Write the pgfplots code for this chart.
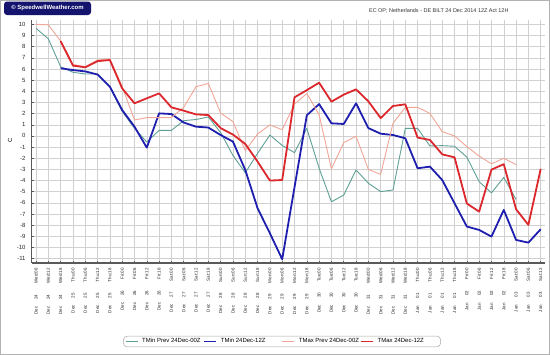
\documentclass[border=0pt]{standalone}
\usepackage{pgfplots}
\pgfplotsset{compat=1.18}
\usepackage{fontspec}
\setmainfont{Liberation Sans}
\definecolor{tminprev}{RGB}{95,160,150}
\definecolor{tmin}{RGB}{30,30,175}
\definecolor{tmaxprev}{RGB}{240,165,150}
\definecolor{tmax}{RGB}{220,40,45}
\definecolor{gridc}{RGB}{208,208,208}
\definecolor{axisc}{RGB}{90,90,90}
\definecolor{navy}{RGB}{20,20,110}
\newcommand{\xl}[3]{\makebox[15bp][l]{#1}\makebox[16bp][l]{#2}#3}
\begin{document}
\begin{tikzpicture}
\draw[gray!60, line width=1bp] (0.5bp,-0.5bp) rectangle (549.5bp,-354.5bp);
\fill[navy, rounded corners=3bp] (4bp,-1.5bp) rectangle (91bp,-15bp);
\node[text=white, font=\fontsize{6}{7}\selectfont\bfseries] at (47.5bp,-8.2bp) {© SpeedwellWeather.com};
\node[anchor=east, font=\fontsize{5.5}{6.5}\selectfont, text=black!80] at (512bp,-10.7bp) {EC OP; Netherlands - DE BILT 24 Dec 2014 12Z Act 12H};
\begin{axis}[
 at={(31.7bp,-263bp)}, anchor=south west, scale only axis,
 width=513.3bp, height=243bp,
 xmin=-0.35, xmax=41.35, ymin=-11.385, ymax=10.385,
 axis x line*=bottom, axis y line*=left,
 x axis line style={-, axisc, line width=1.3bp},
 y axis line style={-, axisc, line width=1.3bp},
 xtick={0,...,41}, ytick={-11,...,10},
 xticklabels={\xl{Dec}{24}{Wed:06},\xl{Dec}{24}{Wed:12},\xl{Dec}{24}{Wed:18},
 \xl{Dec}{25}{Thu:00},\xl{Dec}{25}{Thu:06},\xl{Dec}{25}{Thu:12},\xl{Dec}{25}{Thu:18},
 \xl{Dec}{26}{Fri:00},\xl{Dec}{26}{Fri:06},\xl{Dec}{26}{Fri:12},\xl{Dec}{26}{Fri:18},
 \xl{Dec}{27}{Sat:00},\xl{Dec}{27}{Sat:06},\xl{Dec}{27}{Sat:12},\xl{Dec}{27}{Sat:18},
 \xl{Dec}{28}{Sun:00},\xl{Dec}{28}{Sun:06},\xl{Dec}{28}{Sun:12},\xl{Dec}{28}{Sun:18},
 \xl{Dec}{29}{Mon:00},\xl{Dec}{29}{Mon:06},\xl{Dec}{29}{Mon:12},\xl{Dec}{29}{Mon:18},
 \xl{Dec}{30}{Tue:00},\xl{Dec}{30}{Tue:06},\xl{Dec}{30}{Tue:12},\xl{Dec}{30}{Tue:18},
 \xl{Dec}{31}{Wed:00},\xl{Dec}{31}{Wed:06},\xl{Dec}{31}{Wed:12},\xl{Dec}{31}{Wed:18},
 \xl{Jan}{01}{Thu:00},\xl{Jan}{01}{Thu:06},\xl{Jan}{01}{Thu:12},\xl{Jan}{01}{Thu:18},
 \xl{Jan}{02}{Fri:00},\xl{Jan}{02}{Fri:06},\xl{Jan}{02}{Fri:12},\xl{Jan}{02}{Fri:18},
 \xl{Jan}{03}{Sat:00},\xl{Jan}{03}{Sat:06},\xl{Jan}{03}{Sat:12}},
 yticklabel={\pgfmathprintnumber[assume math mode=true]{\tick}},
 grid=major, major grid style={gridc, line width=0.5bp},
 tick style={axisc, line width=0.5bp}, major tick length=2bp,
 x tick label style={font=\fontsize{4.5}{5}\selectfont, rotate=90, anchor=east, inner xsep=5bp, inner ysep=0pt, text=black!85},
 y tick label style={font=\fontsize{6}{7}\selectfont, anchor=east, inner xsep=6bp, inner ysep=0pt, text=black!85},
 ylabel={C}, ylabel style={at={(-0.0423,0.506)}, anchor=center, font=\fontsize{6}{7}\selectfont},
 legend columns=4,
 legend style={at={(0.4876,-0.323)}, anchor=center, draw=gray!70, rounded corners=4bp, line width=0.5bp,
   font=\fontsize{6}{7}\selectfont, inner xsep=2bp, inner ysep=1.5bp,
   /tikz/every odd column/.append style={column sep=3bp}, nodes={inner sep=1bp}},
 legend image code/.code={\draw[#1] (0bp,0bp) -- (12bp,0bp);},
 every axis plot/.append style={line join=round},
]
\addplot[tminprev, line width=0.9bp] coordinates {
(0,9.64)(1,8.7)(2,6.2)(3,5.7)(4,5.55)(5,5.55)(6,4.4)(7,2.2)(8,0.68)(9,-0.55)
(10,0.5)(11,0.5)(12,1.37)(13,1.47)(14,1.7)(15,0.3)(16,-1.75)(17,-3.3)(18,-1.56)(19,0.08)
(20,-0.85)(21,-1.5)(22,0.68)(23,-2.9)(24,-5.9)(25,-5.3)(26,-3.05)(27,-4.24)(28,-4.99)(29,-4.84)
(30,0.68)(31,0.68)(32,-0.9)(33,-0.87)(34,-0.93)(35,-1.9)(36,-4.1)(37,-5.1)(38,-3.72)(39,-5.7)};
\addlegendentry{\makebox[60bp][l]{TMin Prev 24Dec-00Z}}
\addplot[tmin, line width=1.8bp] coordinates {
(2,6.06)(3,5.9)(4,5.78)(5,5.5)(6,4.41)(7,2.32)(8,0.83)(9,-1.05)
(10,2.02)(11,1.96)(12,1.2)(13,0.83)(14,0.75)(15,0.08)(16,-0.51)(17,-3.05)(18,-6.48)(19,-8.72)
(20,-11.05)(21,-4.6)(22,1.85)(23,2.85)(24,1.13)(25,1.07)(26,2.92)(27,0.7)(28,0.2)(29,0.08)
(30,-0.21)(31,-2.9)(32,-2.75)(33,-3.95)(34,-6.03)(35,-8.12)(36,-8.42)(37,-9.02)(38,-6.63)(39,-9.32)
(40,-9.56)(41,-8.36)};
\addlegendentry{\makebox[60bp][l]{TMin 24Dec-12Z}}
\addplot[tmaxprev, line width=0.9bp] coordinates {
(0,10)(1,9.95)(2,8.5)(3,6.4)(4,6.2)(5,6.8)(6,6.9)(7,4.41)(8,1.43)(9,1.64)
(10,1.64)(11,1.65)(12,2.56)(13,4.41)(14,4.7)(15,2.05)(16,1.28)(17,-1.32)(18,0.17)(19,0.98)
(20,0.56)(21,2.85)(22,3.8)(23,1.9)(24,-2.95)(25,-0.6)(26,-0.03)(27,-3.0)(28,-3.45)(29,1.13)
(30,2.56)(31,2.56)(32,2.02)(33,0.38)(34,0.0)(35,-0.96)(36,-1.8)(37,-2.5)(38,-2.0)(39,-2.57)};
\addlegendentry{\makebox[60bp][l]{TMax Prev 24Dec-00Z}}
\addplot[tmax, line width=1.8bp] coordinates {
(2,8.5)(3,6.3)(4,6.15)(5,6.7)(6,6.8)(7,4.26)(8,2.92)(9,3.37)
(10,3.81)(11,2.56)(12,2.26)(13,1.93)(14,1.87)(15,0.7)(16,0.12)(17,-0.72)(18,-2.3)(19,-4.0)
(20,-3.95)(21,3.46)(22,4.1)(23,4.77)(24,3.07)(25,3.7)(26,4.17)(27,3.1)(28,1.6)(29,2.68)
(30,2.83)(31,-0.15)(32,-0.36)(33,-1.65)(34,-1.92)(35,-6.06)(36,-6.78)(37,-3.02)(38,-2.53)(39,-6.57)
(40,-7.97)(41,-2.95)};
\addlegendentry{\makebox[60bp][l]{TMax 24Dec-12Z}}
\end{axis}
\end{tikzpicture}
\end{document}
